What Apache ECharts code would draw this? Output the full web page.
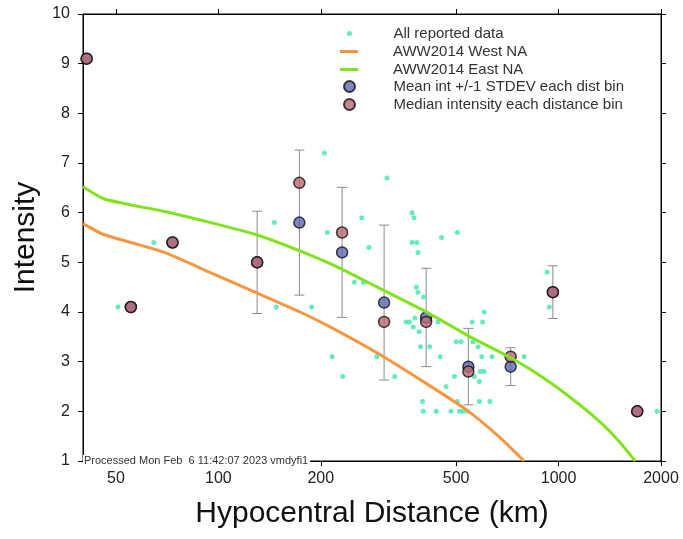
<!DOCTYPE html>
<html>
<head>
<meta charset="utf-8">
<script src="https://cdn.jsdelivr.net/npm/echarts@6/dist/echarts.min.js"></script>
<style>
  html, body { margin: 0; padding: 0; background: #fff; }
  #chart { width: 683px; height: 539px; }
</style>
</head>
<body>
<div id="chart"></div>
<script>
'use strict';

// all reported observations: [hypocentral distance km, intensity]
var reportedData = [
  [41, 9.1], [50.7, 4.1], [64.6, 5.4], [146, 5.8], [148, 4.1], [188, 4.1], [205, 7.2],
  [209, 5.6], [216, 3.1], [232, 2.7], [251, 4.6], [264, 5.9], [267, 4.6], [277, 5.3],
  [292, 3.1], [313, 6.7], [330, 2.7], [371, 6.0], [376, 5.9], [371, 5.4], [383, 5.4],
  [386, 5.2], [453, 5.5], [504, 5.6], [382, 4.5], [386, 4.4], [401, 4.3], [356, 3.8],
  [364, 3.8], [378, 3.88], [374, 3.7], [389, 3.6], [442, 3.8], [393, 3.3], [418, 3.3],
  [449, 3.1], [500, 3.4], [517, 3.4], [557, 3.8], [598, 3.8], [604, 4.0], [560, 3.4],
  [580, 3.3], [595, 3.1], [637, 3.1], [792, 3.1], [494, 2.7], [565, 2.7], [585, 2.6],
  [589, 2.8], [604, 2.8], [467, 2.5], [398, 2.2], [504, 2.2], [585, 2.2], [628, 2.2],
  [400, 2.0], [437, 2.0], [483, 2.0], [511, 2.0], [523, 2.0], [540, 2.0], [925, 4.8],
  [939, 4.1], [1948, 2.0]
];

// AWW2014 curves
var westDist = [40, 46, 56, 70, 95, 127, 175, 213, 299, 400, 536, 668, 791];
var westInt  = [5.78, 5.56, 5.39, 5.19, 4.79, 4.41, 3.99, 3.7, 3.14, 2.6, 2.03, 1.49, 1.0];
var eastDist = [40, 46, 56, 70, 95, 130, 175, 228, 299, 409, 543, 723, 850, 1050, 1308, 1500, 1680];
var eastInt  = [6.52, 6.28, 6.15, 6.02, 5.8, 5.55, 5.22, 4.88, 4.47, 4.0, 3.52, 3.08, 2.79, 2.35, 1.82, 1.41, 1.0];

// distance bins
var binDist   = [41, 55.3, 73.3, 130, 173, 231, 307, 408, 543, 723, 962, 1703];
var binMean   = [9.1, 4.1, 5.4, 5.0, 5.8, 5.2, 4.19, 3.89, 2.9, 2.9, 4.4, 2.0];
var binMedian = [9.1, 4.1, 5.4, 5.0, 6.6, 5.6, 3.8, 3.8, 2.8, 3.1, 4.4, 2.0];
var binStdev  = [0, 0, 0, 1.03, 1.46, 1.31, 1.56, 0.99, 0.77, 0.38, 0.53, 0];

var xTickKm = [50, 100, 200, 500, 1000, 2000];
var xMinKm = 40, xMaxKm = 2000;

var lg = function (v) { return Math.log10(v); };
var pairs = function (xs, ys) { return xs.map(function (x, i) { return [lg(x), ys[i]]; }); };

var errData = [];
binDist.forEach(function (d, i) {
  if (binStdev[i] > 0) errData.push([lg(d), binMean[i] - binStdev[i], binMean[i] + binStdev[i]]);
});

var FONT = 'Liberation Sans';
var tickVals = xTickKm.map(lg);
var legendText = { fontFamily: FONT, fontSize: 15, color: '#333', padding: [0, 0, 0, 30] };

var chart = echarts.init(document.getElementById('chart'));
var option = {
  animation: false,
  backgroundColor: '#fff',
  textStyle: { fontFamily: FONT },
  grid: { left: 83, right: 22, top: 14, bottom: 78, show: true, borderColor: '#000', borderWidth: 1 },
  legend: [
    {
      orient: 'vertical', left: 347, top: 26, padding: 0, itemWidth: 18, itemHeight: 5, itemGap: 3,
      selectedMode: false, textStyle: legendText,
      data: [{ name: 'All reported data', icon: 'circle' }]
    },
    {
      orient: 'vertical', left: 340, top: 44, padding: 0, itemWidth: 18, itemHeight: 3, itemGap: 3,
      selectedMode: false, textStyle: legendText,
      data: [{ name: 'AWW2014 West NA', icon: 'rect' }, { name: 'AWW2014 East NA', icon: 'rect' }]
    },
    {
      orient: 'vertical', left: 343, top: 79, padding: 0, itemWidth: 18, itemHeight: 11, itemGap: 3,
      selectedMode: false, textStyle: legendText,
      data: [{ name: 'Mean int +/-1 STDEV each dist bin', icon: 'circle' },
             { name: 'Median intensity each distance bin', icon: 'circle' }]
    }
  ],
  xAxis: [
    {
      type: 'value', min: lg(xMinKm), max: lg(xMaxKm), position: 'bottom',
      name: 'Hypocentral Distance (km)', nameLocation: 'middle', nameGap: 38,
      nameTextStyle: { fontFamily: FONT, fontSize: 30, color: '#111' },
      axisLine: { show: true, lineStyle: { color: '#000', width: 1 } },
      axisTick: { show: true, length: 5, customValues: tickVals, lineStyle: { color: '#000' } },
      axisLabel: {
        customValues: tickVals, margin: 10, fontSize: 16, color: '#222', fontFamily: FONT,
        formatter: function (v) { return String(Math.round(Math.pow(10, v))); }
      },
      splitLine: { show: false }
    },
    {
      type: 'value', min: lg(xMinKm), max: lg(xMaxKm), position: 'top',
      axisLine: { show: true, lineStyle: { color: '#000', width: 1 } },
      axisTick: { show: true, length: 5, customValues: tickVals, lineStyle: { color: '#000' } },
      axisLabel: { show: false },
      splitLine: { show: false }
    }
  ],
  yAxis: [
    {
      type: 'value', min: 1, max: 10, interval: 1, position: 'left',
      name: 'Intensity', nameLocation: 'middle', nameGap: 42, nameRotate: 90,
      nameTextStyle: { fontFamily: FONT, fontSize: 30, color: '#111' },
      axisLine: { show: true, lineStyle: { color: '#000', width: 1 } },
      axisTick: { show: true, length: 5, lineStyle: { color: '#000' } },
      axisLabel: { margin: 13, fontSize: 16, color: '#222', fontFamily: FONT },
      splitLine: { show: false }
    },
    {
      type: 'value', min: 1, max: 10, interval: 1, position: 'right',
      axisLine: { show: true, lineStyle: { color: '#000', width: 1 } },
      axisTick: { show: true, length: 5, lineStyle: { color: '#000' } },
      axisLabel: { show: false },
      splitLine: { show: false }
    }
  ],
  series: [
    {
      name: 'All reported data', type: 'scatter', symbol: 'circle', symbolSize: 5,
      itemStyle: { color: '#3de6b2' },
      data: reportedData.map(function (p) { return [lg(p[0]), p[1]]; })
    },
    {
      name: 'AWW2014 West NA', type: 'line', smooth: 0.2, symbol: 'none',
      lineStyle: { color: '#f7963e', width: 3, join: 'round' }, itemStyle: { color: '#f7963e' },
      data: pairs(westDist, westInt)
    },
    {
      name: 'AWW2014 East NA', type: 'line', smooth: 0.2, symbol: 'none',
      lineStyle: { color: '#80e41c', width: 3, join: 'round' }, itemStyle: { color: '#80e41c' },
      data: pairs(eastDist, eastInt)
    },
    {
      name: 'stdev bars', type: 'custom', silent: true,
      renderItem: function (params, api) {
        var top = api.coord([api.value(0), api.value(2)]);
        var bot = api.coord([api.value(0), api.value(1)]);
        var w = 5;
        var st = { stroke: '#8a8a8a', lineWidth: 1 };
        return {
          type: 'group',
          children: [
            { type: 'line', shape: { x1: top[0], y1: top[1], x2: bot[0], y2: bot[1] }, style: st },
            { type: 'line', shape: { x1: top[0] - w, y1: top[1], x2: top[0] + w, y2: top[1] }, style: st },
            { type: 'line', shape: { x1: bot[0] - w, y1: bot[1], x2: bot[0] + w, y2: bot[1] }, style: st }
          ]
        };
      },
      data: errData
    },
    {
      name: 'Mean int +/-1 STDEV each dist bin', type: 'scatter', symbol: 'circle', symbolSize: 11,
      itemStyle: { color: '#5d66b6', borderColor: '#111', borderWidth: 1.5 },
      data: pairs(binDist, binMean)
    },
    {
      name: 'Median intensity each distance bin', type: 'scatter', symbol: 'circle', symbolSize: 11,
      itemStyle: { color: '#b9696f', borderColor: '#111', borderWidth: 1.5 },
      data: pairs(binDist, binMedian)
    }
  ],
  graphic: [
    {
      type: 'text', left: 83, top: 455, z: 100,
      style: {
        text: 'Processed Mon Feb  6 11:42:07 2023 vmdyfi1',
        fontFamily: FONT, fontSize: 11, fill: '#333',
        backgroundColor: '#fff', padding: [0, 2, 0, 1]
      }
    }
  ]
};
chart.setOption(option);
</script>
</body>
</html>
